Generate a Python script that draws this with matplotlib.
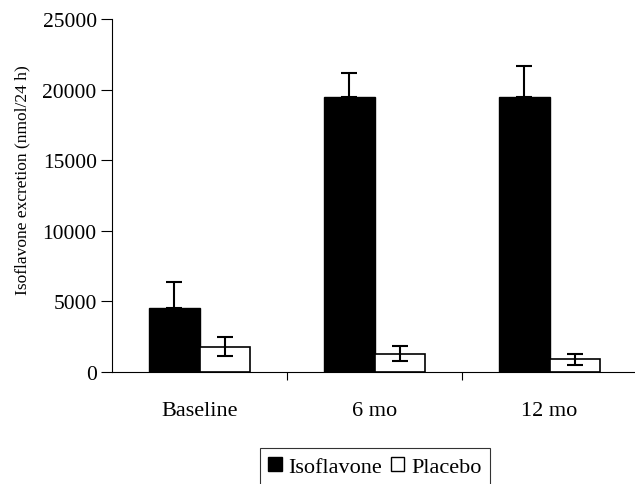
import numpy as np
import matplotlib.pyplot as plt
from matplotlib.patches import Patch

plt.rcParams["font.family"] = ["Liberation Serif", "DejaVu Serif"]

categories = ["Baseline", "6 mo", "12 mo"]
isoflavone = [4500, 19500, 19500]
isoflavone_err = [1900, 1650, 2200]
placebo = [1800, 1300, 900]
placebo_err = [650, 550, 380]
y_ticks = [0, 5000, 10000, 15000, 20000, 25000]
y_tick_labels = ["0", "5000", "10000", "15000", "20000", "25000"]

fig = plt.figure(figsize=(6.35, 4.85), dpi=100)
ax = fig.add_axes([112 / 635, 1 - 373 / 485, 525 / 635, 353 / 485])

x = np.arange(len(categories))
w = 0.29

ax.bar(x - w / 2, isoflavone, w, color="black", edgecolor="black", linewidth=1)
ax.errorbar(x - w / 2, isoflavone, yerr=[np.zeros(3), isoflavone_err],
            fmt="none", ecolor="black", elinewidth=1.5, capsize=6, capthick=1.5)
ax.bar(x + w / 2, placebo, w, color="white", edgecolor="black", linewidth=1.2)
ax.errorbar(x + w / 2, placebo, yerr=placebo_err,
            fmt="none", ecolor="black", elinewidth=1.5, capsize=6, capthick=1.5)

ax.set_xlim(-0.5, 2.5)
ax.set_ylim(0, 25000)
ax.set_yticks(y_ticks)
ax.set_yticklabels(y_tick_labels, fontsize=15.5)
ax.tick_params(axis="y", direction="out", length=8, width=0.8, pad=3)

ax.set_xticks(x)
ax.set_xticklabels(categories, fontsize=16)
ax.tick_params(axis="x", which="major", length=0, pad=21)
ax.set_xticks([0.5, 1.5], minor=True)
ax.tick_params(axis="x", which="minor", direction="out", length=6, width=0.8)

for s in ["top", "right"]:
    ax.spines[s].set_visible(False)
for s in ["left", "bottom"]:
    ax.spines[s].set_linewidth(0.8)

ax.set_ylabel("Isoflavone excretion (nmol/24 h)", fontsize=12.5)
ax.yaxis.set_label_coords(-0.155, 0.547)

handles = [Patch(facecolor="black", edgecolor="black", label="Isoflavone"),
           Patch(facecolor="white", edgecolor="black", label="Placebo")]
leg = fig.legend(handles=handles, loc="upper center", bbox_to_anchor=(375 / 635, 1 - 449 / 485),
                 ncol=2, fontsize=16, frameon=True, fancybox=False, edgecolor="black",
                 handlelength=0.6, handleheight=0.6, handletextpad=0.3, columnspacing=0.4,
                 borderpad=0.4, borderaxespad=0)
leg.get_frame().set_linewidth(0.8)

fig.savefig("out.png", dpi=100)
